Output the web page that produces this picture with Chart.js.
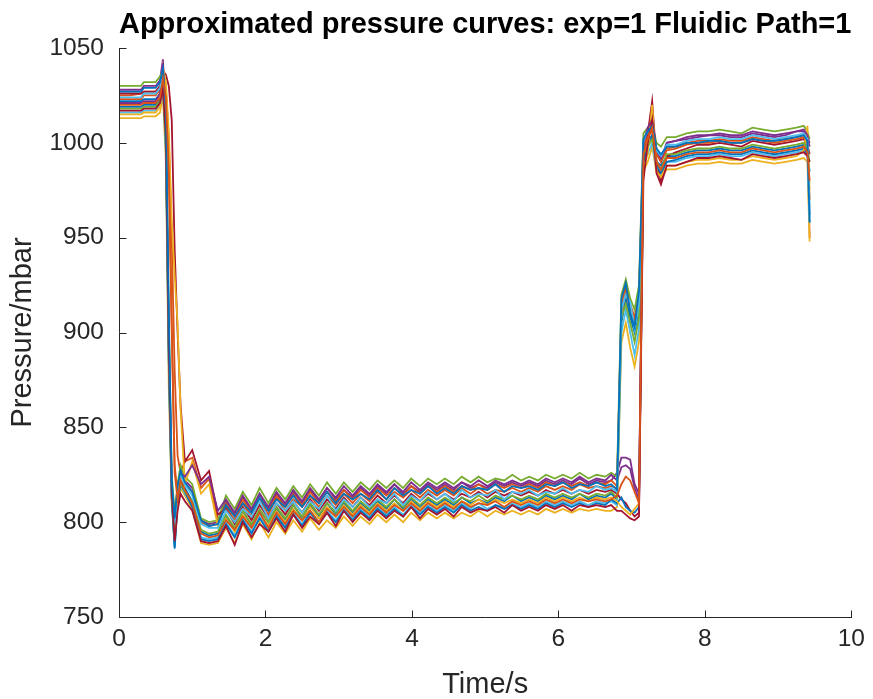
<!DOCTYPE html>
<html>
<head>
<meta charset="utf-8">
<title>Approximated pressure curves</title>
<script src="https://cdn.jsdelivr.net/npm/chart.js@4.4.1/dist/chart.umd.min.js"></script>
<style>
    html, body { margin: 0; padding: 0; background: #fff; }
    canvas { display: block; }
</style>
</head>
<body>
<canvas id="pressureChart" width="873" height="699"></canvas>
<script>
// Time axis shared by all curves (s)
const timeS = [
    0, 0.15, 0.3, 0.34, 0.5, 0.56, 0.6, 0.64, 0.68, 0.72, 0.76, 0.8, 0.84, 0.9,
    1.0, 1.12, 1.23, 1.35, 1.46, 1.58, 1.69, 1.81, 1.92, 2.04,
    2.15, 2.27, 2.38, 2.5, 2.61, 2.73, 2.84, 2.96, 3.07, 3.19,
    3.3, 3.42, 3.53, 3.65, 3.76, 3.88, 3.99, 4.11, 4.22, 4.34,
    4.45, 4.57, 4.68, 4.8, 4.91, 5.03, 5.14, 5.26, 5.37, 5.49,
    5.6, 5.72, 5.83, 5.95, 6.06, 6.18, 6.29, 6.41, 6.52, 6.64,
    6.72, 6.8, 6.86, 6.92, 6.98, 7.04, 7.1, 7.16, 7.22, 7.28, 7.34, 7.4, 7.48,
    7.6, 7.75, 7.9, 8.05, 8.2, 8.35, 8.5, 8.65, 8.8, 8.95, 9.1, 9.25, 9.35, 9.4, 9.43
];

// Pressure curves (mbar), one array per measurement
const curve01 = [
    1019, 1019, 1019, 1020, 1020, 1023, 1030, 1005, 890, 815, 787, 812, 822, 818,
    811, 795, 793, 794, 803, 796, 806, 798, 806, 800,
    807, 801, 809, 802, 809, 803, 810, 804, 810, 805,
    810, 806, 811, 807, 812, 807, 812, 808, 812, 809,
    812, 809, 813, 810, 812, 810, 813, 811, 814, 811,
    813, 811, 814, 812, 814, 812, 815, 812, 814, 813,
    815, 812, 905, 918, 908, 900, 912, 996, 1001, 1004, 990, 988, 993,
    993, 995, 996, 996, 997, 996, 996, 998, 997, 996, 997, 998, 999, 996, 962
];
const curve02 = [
    1025, 1025, 1026, 1027, 1027, 1030, 1036, 1030, 1002, 950, 880, 835, 826, 832,
    834, 818, 823, 801, 808, 801, 810, 803, 812, 804,
    813, 806, 812, 808, 814, 808, 814, 809, 815, 810,
    815, 811, 816, 812, 816, 813, 817, 813, 817, 814,
    817, 814, 818, 815, 818, 815, 817, 816, 818, 816,
    818, 816, 819, 817, 819, 817, 820, 818, 819, 818,
    819, 818, 915, 925, 915, 908, 920, 1000, 1004, 1006, 994, 992, 997,
    998, 1000, 1001, 1001, 1002, 1001, 1001, 1003, 1002, 1001, 1002, 1003, 1004, 1000, 950
];
const curve03 = [
    1013, 1013, 1013, 1014, 1014, 1016, 1025, 990, 870, 810, 790, 808, 818, 814,
    807, 789, 788, 789, 797, 789, 799, 791, 800, 792,
    800, 794, 801, 795, 802, 796, 801, 797, 803, 798,
    803, 799, 804, 800, 804, 800, 805, 801, 805, 802,
    805, 802, 805, 803, 806, 803, 806, 804, 806, 804,
    806, 804, 807, 805, 807, 805, 807, 806, 807, 806,
    806, 808, 895, 905, 892, 882, 895, 985, 990, 998, 984, 982, 986,
    986, 988, 989, 989, 990, 989, 989, 991, 990, 989, 990, 991, 992, 990, 948
];
const curve04 = [
    1028, 1028, 1028, 1030, 1030, 1033, 1044, 1010, 900, 820, 800, 818, 828, 822,
    818, 801, 799, 800, 811, 804, 813, 806, 815, 807,
    815, 809, 816, 810, 817, 811, 818, 812, 817, 813,
    818, 814, 819, 815, 820, 815, 819, 816, 820, 817,
    820, 817, 821, 818, 820, 818, 821, 819, 821, 819,
    821, 819, 822, 820, 822, 820, 823, 820, 822, 821,
    822, 826, 834, 834, 833, 820, 815, 995, 1006, 1010, 996, 990, 1000,
    1001, 1002, 1003, 1004, 1004, 1003, 1003, 1005, 1004, 1003, 1004, 1006, 1006, 1003, 1000
];
const curve05 = [
    1030, 1030, 1030, 1032, 1032, 1035, 1038, 1015, 905, 825, 805, 820, 830, 824,
    820, 802, 800, 801, 814, 807, 816, 809, 818, 810,
    818, 812, 819, 813, 820, 814, 821, 815, 821, 816,
    821, 817, 822, 818, 822, 818, 823, 819, 823, 820,
    823, 820, 824, 821, 824, 821, 823, 822, 825, 822,
    824, 822, 825, 823, 825, 823, 826, 823, 825, 824,
    826, 824, 920, 928, 918, 912, 925, 1005, 1008, 1010, 1000, 998, 1003,
    1003, 1005, 1006, 1006, 1007, 1006, 1005, 1008, 1007, 1006, 1007, 1008, 1009, 1006, 1002
];
const curve06 = [
    1016, 1016, 1016, 1017, 1017, 1020, 1028, 995, 880, 812, 788, 810, 820, 815,
    809, 792, 791, 792, 800, 793, 802, 795, 803, 796,
    804, 798, 805, 799, 806, 800, 806, 801, 807, 802,
    807, 803, 808, 804, 808, 804, 809, 805, 809, 806,
    809, 806, 810, 807, 810, 807, 809, 808, 810, 808,
    810, 808, 811, 809, 811, 809, 811, 809, 811, 810,
    811, 809, 900, 912, 900, 888, 902, 990, 994, 1000, 986, 984, 990,
    990, 992, 993, 993, 994, 993, 993, 995, 994, 993, 994, 995, 996, 993, 958
];
const curve07 = [
    1026, 1026, 1026, 1027, 1027, 1030, 1038, 1036, 1030, 1012, 944, 900, 862, 832,
    838, 822, 827, 804, 807, 799, 808, 801, 809, 802,
    810, 804, 811, 805, 812, 806, 812, 807, 813, 808,
    813, 809, 814, 810, 814, 810, 815, 811, 815, 812,
    815, 812, 815, 813, 816, 813, 816, 814, 816, 814,
    816, 814, 817, 815, 817, 815, 817, 815, 817, 816,
    817, 815, 812, 810, 806, 803, 805, 990, 1005, 1022, 990, 980, 993,
    995, 997, 999, 999, 1000, 999, 998, 1001, 1000, 999, 1000, 1001, 1002, 999, 994
];
const curve08 = [
    1022, 1022, 1022, 1023, 1023, 1026, 1033, 1000, 885, 812, 786, 810, 820, 816,
    808, 791, 790, 791, 799, 792, 801, 794, 802, 795,
    803, 797, 804, 798, 805, 799, 805, 800, 806, 801,
    806, 802, 807, 803, 807, 803, 808, 804, 808, 805,
    808, 805, 809, 806, 808, 806, 809, 807, 809, 807,
    809, 807, 810, 808, 810, 808, 810, 808, 810, 809,
    812, 810, 813, 808, 806, 805, 808, 990, 998, 1004, 988, 984, 990,
    991, 993, 994, 994, 995, 994, 994, 996, 995, 994, 995, 996, 997, 994, 985
];
const curve09 = [
    1023, 1023, 1023, 1025, 1025, 1028, 1035, 1025, 990, 905, 830, 815, 825, 820,
    816, 800, 798, 799, 810, 803, 812, 805, 813, 806,
    814, 808, 815, 809, 816, 810, 816, 811, 817, 812,
    817, 813, 818, 814, 818, 814, 819, 815, 819, 816,
    819, 816, 819, 817, 820, 817, 820, 818, 820, 818,
    820, 818, 821, 819, 821, 819, 821, 819, 821, 820,
    822, 819, 910, 922, 912, 905, 918, 998, 1003, 1007, 994, 990, 996,
    997, 999, 1000, 1000, 1001, 1000, 1000, 1002, 1001, 1000, 1001, 1002, 1003, 999, 970
];
const curve10 = [
    1015, 1015, 1015, 1016, 1016, 1019, 1040, 1032, 1005, 960, 930, 905, 860, 820,
    832, 815, 820, 798, 802, 795, 804, 797, 805, 798,
    806, 800, 807, 801, 808, 802, 808, 803, 809, 804,
    809, 805, 810, 806, 810, 806, 811, 807, 811, 808,
    811, 808, 811, 809, 812, 809, 812, 810, 812, 810,
    812, 810, 813, 811, 813, 811, 813, 811, 813, 812,
    813, 811, 808, 806, 804, 807, 810, 985, 995, 1020, 985, 982, 988,
    988, 990, 991, 991, 992, 991, 991, 993, 992, 991, 992, 993, 996, 1009, 975
];
const curve11 = [
    1021, 1021, 1021, 1022, 1022, 1026, 1042, 1008, 895, 818, 796, 815, 826, 824,
    830, 820, 824, 806, 812, 805, 814, 807, 815, 808,
    816, 810, 817, 811, 818, 812, 818, 813, 819, 814,
    819, 815, 820, 816, 820, 816, 821, 817, 821, 818,
    821, 818, 821, 819, 822, 819, 822, 820, 822, 820,
    822, 820, 823, 821, 823, 821, 824, 821, 823, 822,
    825, 822, 829, 830, 828, 818, 812, 1000, 1008, 1012, 996, 992, 1000,
    1001, 1003, 1004, 1004, 1005, 1004, 1004, 1006, 1005, 1004, 1005, 1006, 1007, 1004, 998
];
const curve12 = [
    1018, 1018, 1018, 1019, 1019, 1022, 1030, 998, 885, 814, 792, 812, 821, 816,
    811, 796, 794, 795, 804, 797, 806, 799, 807, 800,
    808, 802, 809, 803, 810, 804, 810, 805, 811, 806,
    811, 807, 812, 808, 812, 808, 813, 809, 813, 810,
    813, 810, 813, 811, 814, 811, 814, 812, 814, 812,
    814, 812, 815, 813, 815, 813, 815, 813, 815, 814,
    816, 813, 908, 915, 905, 895, 908, 994, 998, 1002, 990, 986, 994,
    994, 996, 997, 997, 998, 997, 997, 999, 998, 997, 998, 999, 1000, 997, 990
];
const curve13 = [
    1024, 1024, 1024, 1026, 1026, 1029, 1036, 1012, 898, 818, 799, 816, 825, 820,
    814, 799, 797, 797, 806, 800, 807, 803, 811, 802,
    810, 806, 811, 805, 811, 807, 814, 806, 812, 808,
    813, 808, 812, 810, 815, 809, 814, 811, 816, 812,
    815, 811, 817, 813, 815, 814, 817, 812, 816, 815,
    817, 814, 816, 815, 818, 815, 817, 816, 819, 817,
    818, 816, 912, 920, 916, 902, 915, 1001, 1006, 1008, 996, 993, 999,
    999, 1001, 1002, 1002, 1003, 1002, 1002, 1004, 1003, 1002, 1003, 1004, 1005, 1002, 966
];
const curve14 = [
    1017, 1017, 1017, 1018, 1018, 1021, 1029, 1003, 892, 816, 790, 806, 815, 811,
    806, 790, 789, 790, 798, 788, 800, 792, 799, 795,
    802, 795, 804, 797, 803, 799, 805, 798, 806, 800,
    805, 801, 806, 802, 806, 803, 808, 802, 807, 804,
    807, 803, 808, 805, 807, 806, 808, 805, 809, 806,
    808, 806, 809, 807, 809, 806, 809, 808, 809, 808,
    809, 806, 806, 804, 802, 801, 803, 980, 1000, 1012, 984, 978, 988,
    988, 990, 992, 992, 993, 992, 991, 994, 993, 992, 993, 994, 995, 993, 990
];
const curve15 = [
    1027, 1027, 1027, 1029, 1029, 1032, 1039, 1018, 910, 822, 802, 819, 827, 821,
    816, 801, 798, 799, 809, 803, 810, 805, 813, 806,
    812, 808, 814, 808, 814, 810, 816, 810, 815, 812,
    815, 812, 817, 812, 818, 814, 817, 815, 819, 815,
    818, 815, 819, 817, 818, 817, 820, 816, 819, 818,
    819, 817, 820, 819, 821, 818, 820, 819, 821, 819,
    820, 817, 918, 926, 910, 903, 922, 1002, 1006, 1009, 997, 994, 998,
    998, 1000, 1000, 1001, 1001, 1000, 1000, 1002, 1001, 1001, 1002, 1003, 1004, 1001, 958
];
const curve16 = [
    1020, 1020, 1020, 1021, 1021, 1024, 1034, 1024, 985, 900, 826, 812, 822, 817,
    810, 794, 792, 793, 801, 796, 803, 797, 805, 797,
    805, 799, 806, 801, 806, 800, 807, 803, 808, 803,
    808, 804, 809, 805, 809, 806, 810, 806, 810, 807,
    810, 807, 811, 808, 810, 809, 811, 808, 811, 809,
    811, 809, 812, 810, 812, 810, 812, 811, 812, 811,
    812, 814, 820, 824, 822, 816, 810, 994, 1002, 1008, 990, 986, 992,
    992, 994, 995, 995, 996, 995, 995, 997, 996, 995, 996, 997, 998, 995, 980
];

const curves = [curve01, curve02, curve03, curve04, curve05, curve06, curve07, curve08,
                curve09, curve10, curve11, curve12, curve13, curve14, curve15, curve16];

const xTicks = [0, 2, 4, 6, 8, 10];
const yTicks = [750, 800, 850, 900, 950, 1000, 1050];

// MATLAB default line colour order
const lineColors = ['#0072BD', '#D95319', '#EDB120', '#7E2F8E', '#77AC30', '#4DBEEE', '#A2142F'];

const axisColor = '#262626';
const fontFamily = "'Liberation Sans', Arial, Helvetica, sans-serif";

// Inward tick marks and the two axis lines (box off)
const matlabAxes = {
    id: 'matlabAxes',
    afterDatasetsDraw(chart) {
        const { ctx, chartArea, scales } = chart;
        const left = Math.round(chartArea.left) + 0.5;
        const bottom = Math.round(chartArea.bottom) + 0.5;
        const tickLen = 7;
        ctx.save();
        ctx.strokeStyle = axisColor;
        ctx.lineWidth = 1;
        ctx.beginPath();
        ctx.moveTo(left, Math.round(chartArea.top));
        ctx.lineTo(left, bottom);
        ctx.lineTo(Math.round(chartArea.right) + 1, bottom);
        xTicks.forEach(v => {
            const px = Math.round(scales.x.getPixelForValue(v)) + 0.5;
            ctx.moveTo(px, bottom);
            ctx.lineTo(px, bottom - tickLen);
        });
        yTicks.forEach(v => {
            const py = Math.round(scales.y.getPixelForValue(v)) + 0.5;
            ctx.moveTo(left, py);
            ctx.lineTo(left + tickLen, py);
        });
        ctx.stroke();
        ctx.restore();
    }
};

const ctx = document.getElementById('pressureChart').getContext('2d');
new Chart(ctx, {
    type: 'line',
    data: {
        datasets: curves.map((c, i) => ({
            label: 'Curve ' + (i + 1),
            data: timeS.map((t, k) => ({ x: t, y: c[k] })),
            borderColor: lineColors[i % lineColors.length],
            borderWidth: 1.8,
            pointRadius: 0,
            tension: 0,
            fill: false,
            order: curves.length - i
        }))
    },
    options: {
        responsive: false,
        devicePixelRatio: 1,
        animation: false,
        layout: { padding: { left: 0, right: 20, top: 0, bottom: 0 } },
        plugins: {
            legend: { display: false },
            tooltip: { enabled: false },
            title: {
                display: true,
                fullSize: false,
                text: 'Approximated pressure curves: exp=1 Fluidic Path=1',
                color: '#000',
                font: { family: fontFamily, size: 29, weight: 'bold', lineHeight: 1 },
                padding: { top: 10, bottom: 9 }
            }
        },
        scales: {
            x: {
                type: 'linear',
                min: 0,
                max: 10,
                afterFit(scale) { scale.height = 82; },
                afterBuildTicks(scale) { scale.ticks = xTicks.map(v => ({ value: v })); },
                grid: { display: false, drawTicks: false },
                border: { display: false },
                ticks: {
                    color: axisColor,
                    padding: 8,
                    maxRotation: 0,
                    callback: v => String(v),
                    font: { family: fontFamily, size: 24.5 }
                },
                title: {
                    display: true,
                    text: 'Time/s',
                    color: axisColor,
                    font: { family: fontFamily, size: 29, lineHeight: 1 },
                    padding: { top: 0, bottom: 0 }
                }
            },
            y: {
                type: 'linear',
                min: 750,
                max: 1050,
                afterFit(scale) { scale.width = 119; },
                afterBuildTicks(scale) { scale.ticks = yTicks.map(v => ({ value: v })); },
                grid: { display: false, drawTicks: false },
                border: { display: false },
                ticks: {
                    color: axisColor,
                    padding: 15,
                    callback: v => String(v),
                    font: { family: fontFamily, size: 24.5 }
                },
                title: {
                    display: true,
                    text: 'Pressure/mbar',
                    color: axisColor,
                    font: { family: fontFamily, size: 29, lineHeight: 1 },
                    padding: { top: 8, bottom: 0 }
                }
            }
        }
    },
    plugins: [matlabAxes]
});
</script>
</body>
</html>
